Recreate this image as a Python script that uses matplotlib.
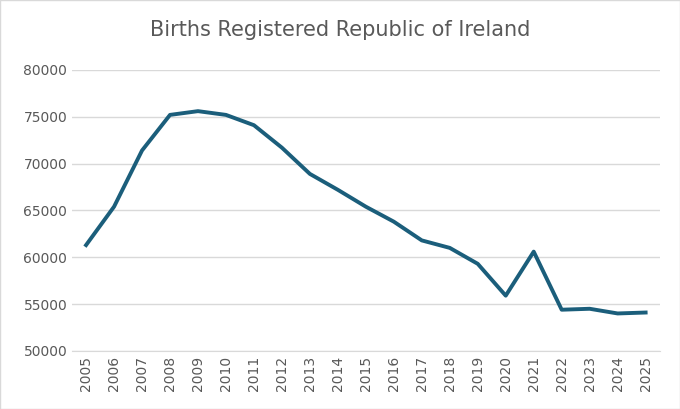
import matplotlib.pyplot as plt

years = [str(y) for y in range(2005, 2026)]
births = [61300, 65400, 71400, 75200, 75600, 75200, 74100, 71700, 68900, 67200,
          65400, 63800, 61800, 61000, 59300, 55900, 60600, 54400, 54500, 54000, 54100]

fig = plt.figure(figsize=(6.8, 4.09), dpi=100)
ax = fig.add_axes([0.106, 0.142, 0.864, 0.687])
ax.plot(range(len(years)), births, color='#1b5e7b', linewidth=2.8, solid_joinstyle='round')
ax.set_ylim(50000, 80000)
ax.set_yticks(range(50000, 80001, 5000))
ax.set_xlim(-0.5, len(years) - 0.5)
ax.set_xticks(range(len(years)))
ax.set_xticklabels(years, rotation=90)
ax.tick_params(colors='#595959', labelsize=10, length=0)
ax.grid(axis='y', color='#d9d9d9', linewidth=1)
ax.set_axisbelow(True)
for s in ['top', 'right', 'left']:
    ax.spines[s].set_visible(False)
ax.spines['bottom'].set_color('#d9d9d9')
fig.suptitle('Births Registered Republic of Ireland', y=0.95, fontsize=15, color='#595959')
fig.patches.append(plt.Rectangle((0, 0), 1, 1, transform=fig.transFigure, fill=False,
                                 edgecolor='#d9d9d9', linewidth=1))
fig.savefig('out.png')
